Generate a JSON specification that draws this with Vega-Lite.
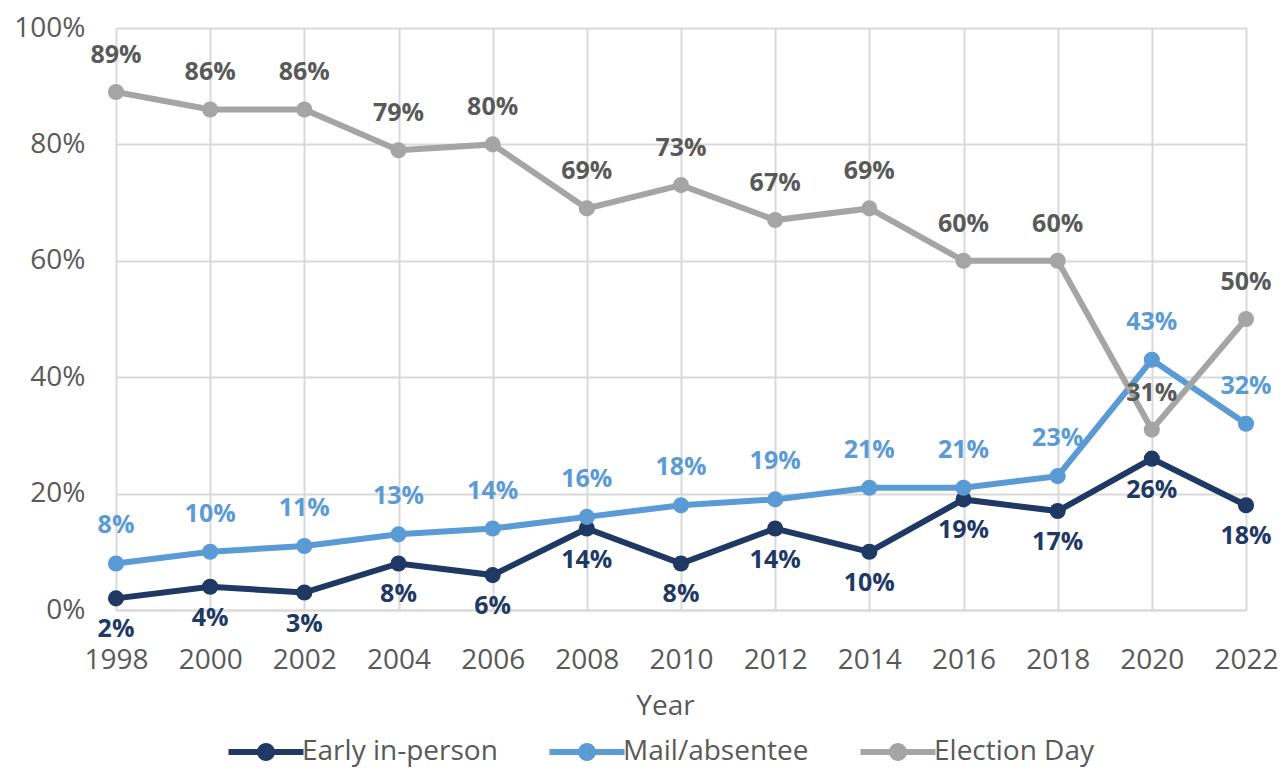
{
  "$schema": "https://vega.github.io/schema/vega-lite/v6.json",
  "width": 1130,
  "height": 582,
  "autosize": {"type": "none"},
  "padding": {"left": 116, "top": 28, "right": 34, "bottom": 159},
  "background": "white",
  "config": {"font": "Open Sans", "view": {"stroke": null}},
  "data": {
    "values": [
      {"year": 1998, "series": "Early in-person", "value": 0.02},
      {"year": 2000, "series": "Early in-person", "value": 0.04},
      {"year": 2002, "series": "Early in-person", "value": 0.03},
      {"year": 2004, "series": "Early in-person", "value": 0.08},
      {"year": 2006, "series": "Early in-person", "value": 0.06},
      {"year": 2008, "series": "Early in-person", "value": 0.14},
      {"year": 2010, "series": "Early in-person", "value": 0.08},
      {"year": 2012, "series": "Early in-person", "value": 0.14},
      {"year": 2014, "series": "Early in-person", "value": 0.10},
      {"year": 2016, "series": "Early in-person", "value": 0.19},
      {"year": 2018, "series": "Early in-person", "value": 0.17},
      {"year": 2020, "series": "Early in-person", "value": 0.26},
      {"year": 2022, "series": "Early in-person", "value": 0.18},
      {"year": 1998, "series": "Mail/absentee", "value": 0.08},
      {"year": 2000, "series": "Mail/absentee", "value": 0.10},
      {"year": 2002, "series": "Mail/absentee", "value": 0.11},
      {"year": 2004, "series": "Mail/absentee", "value": 0.13},
      {"year": 2006, "series": "Mail/absentee", "value": 0.14},
      {"year": 2008, "series": "Mail/absentee", "value": 0.16},
      {"year": 2010, "series": "Mail/absentee", "value": 0.18},
      {"year": 2012, "series": "Mail/absentee", "value": 0.19},
      {"year": 2014, "series": "Mail/absentee", "value": 0.21},
      {"year": 2016, "series": "Mail/absentee", "value": 0.21},
      {"year": 2018, "series": "Mail/absentee", "value": 0.23},
      {"year": 2020, "series": "Mail/absentee", "value": 0.43},
      {"year": 2022, "series": "Mail/absentee", "value": 0.32},
      {"year": 1998, "series": "Election Day", "value": 0.89},
      {"year": 2000, "series": "Election Day", "value": 0.86},
      {"year": 2002, "series": "Election Day", "value": 0.86},
      {"year": 2004, "series": "Election Day", "value": 0.79},
      {"year": 2006, "series": "Election Day", "value": 0.80},
      {"year": 2008, "series": "Election Day", "value": 0.69},
      {"year": 2010, "series": "Election Day", "value": 0.73},
      {"year": 2012, "series": "Election Day", "value": 0.67},
      {"year": 2014, "series": "Election Day", "value": 0.69},
      {"year": 2016, "series": "Election Day", "value": 0.60},
      {"year": 2018, "series": "Election Day", "value": 0.60},
      {"year": 2020, "series": "Election Day", "value": 0.31},
      {"year": 2022, "series": "Election Day", "value": 0.50}
    ]
  },
  "encoding": {
    "x": {
      "field": "year",
      "type": "quantitative",
      "scale": {"domain": [1998, 2022], "nice": false, "zero": false},
      "axis": {
        "values": [1998, 2000, 2002, 2004, 2006, 2008, 2010, 2012, 2014, 2016, 2018, 2020, 2022],
        "format": "d",
        "grid": true,
        "gridColor": "#d9d9d9",
        "gridWidth": 2,
        "domainColor": "#d9d9d9",
        "domainWidth": 2,
        "ticks": false,
        "labelFontSize": 28,
        "labelColor": "#595959",
        "labelPadding": 36,
        "labelFlush": false,
        "title": "Year",
        "titleFontSize": 28,
        "titleFontWeight": "normal",
        "titleColor": "#595959",
        "titleX": 549,
        "titleY": 96,
        "titleBaseline": "middle"
      }
    },
    "y": {
      "field": "value",
      "type": "quantitative",
      "scale": {"domain": [0, 1]},
      "axis": {
        "values": [0, 0.2, 0.4, 0.6, 0.8, 1],
        "format": ".0%",
        "grid": true,
        "gridColor": "#d9d9d9",
        "gridWidth": 2,
        "domain": false,
        "ticks": false,
        "labelFontSize": 28,
        "labelColor": "#595959",
        "labelPadding": 31,
        "labelFlush": false,
        "title": null
      }
    }
  },
  "layer": [
    {
      "mark": {"type": "line", "strokeWidth": 6, "point": {"filled": true, "size": 260, "opacity": 1}},
      "encoding": {
        "color": {
          "field": "series",
          "type": "nominal",
          "sort": ["Early in-person", "Mail/absentee", "Election Day"],
          "scale": {"domain": ["Early in-person", "Mail/absentee", "Election Day"], "range": ["#203864", "#5B9BD5", "#A5A5A5"]},
          "legend": {
            "title": null,
            "orient": "none",
            "direction": "horizontal",
            "legendX": 136,
            "legendY": 710,
            "padding": 0,
            "symbolType": "M-3.75,-0.3H3.75V0.3H-3.75Z M-0.9,0 A0.9,0.9 0 1,1 0.9,0 A0.9,0.9 0 1,1 -0.9,0 Z",
            "symbolSize": 400,
            "symbolStrokeWidth": 0,
            "labelOffset": 22,
            "labelFontSize": 28,
            "labelLimit": 500,
            "labelColor": "#595959",
            "columnPadding": 51,
            "encode": {
              "symbols": {
                "update": {
                  "fill": {"scale": "color", "field": "value"},
                  "stroke": {"value": "transparent"},
                  "strokeWidth": {"value": 0},
                  "opacity": {"value": 1}
                }
              }
            }
          }
        }
      }
    },
    {
      "transform": [{"filter": "datum.series === 'Election Day'"}],
      "mark": {"type": "text", "dy": -37, "fontSize": 25, "fontWeight": "bold", "color": "#595959", "baseline": "middle", "align": "center"},
      "encoding": {"text": {"field": "value", "type": "quantitative", "format": ".0%"}}
    },
    {
      "transform": [{"filter": "datum.series === 'Mail/absentee'"}],
      "mark": {"type": "text", "dy": -38, "fontSize": 25, "fontWeight": "bold", "color": "#5B9BD5", "baseline": "middle", "align": "center"},
      "encoding": {"text": {"field": "value", "type": "quantitative", "format": ".0%"}}
    },
    {
      "transform": [{"filter": "datum.series === 'Early in-person'"}],
      "mark": {"type": "text", "dy": 31, "fontSize": 25, "fontWeight": "bold", "color": "#203864", "baseline": "middle", "align": "center"},
      "encoding": {"text": {"field": "value", "type": "quantitative", "format": ".0%"}}
    }
  ]
}
